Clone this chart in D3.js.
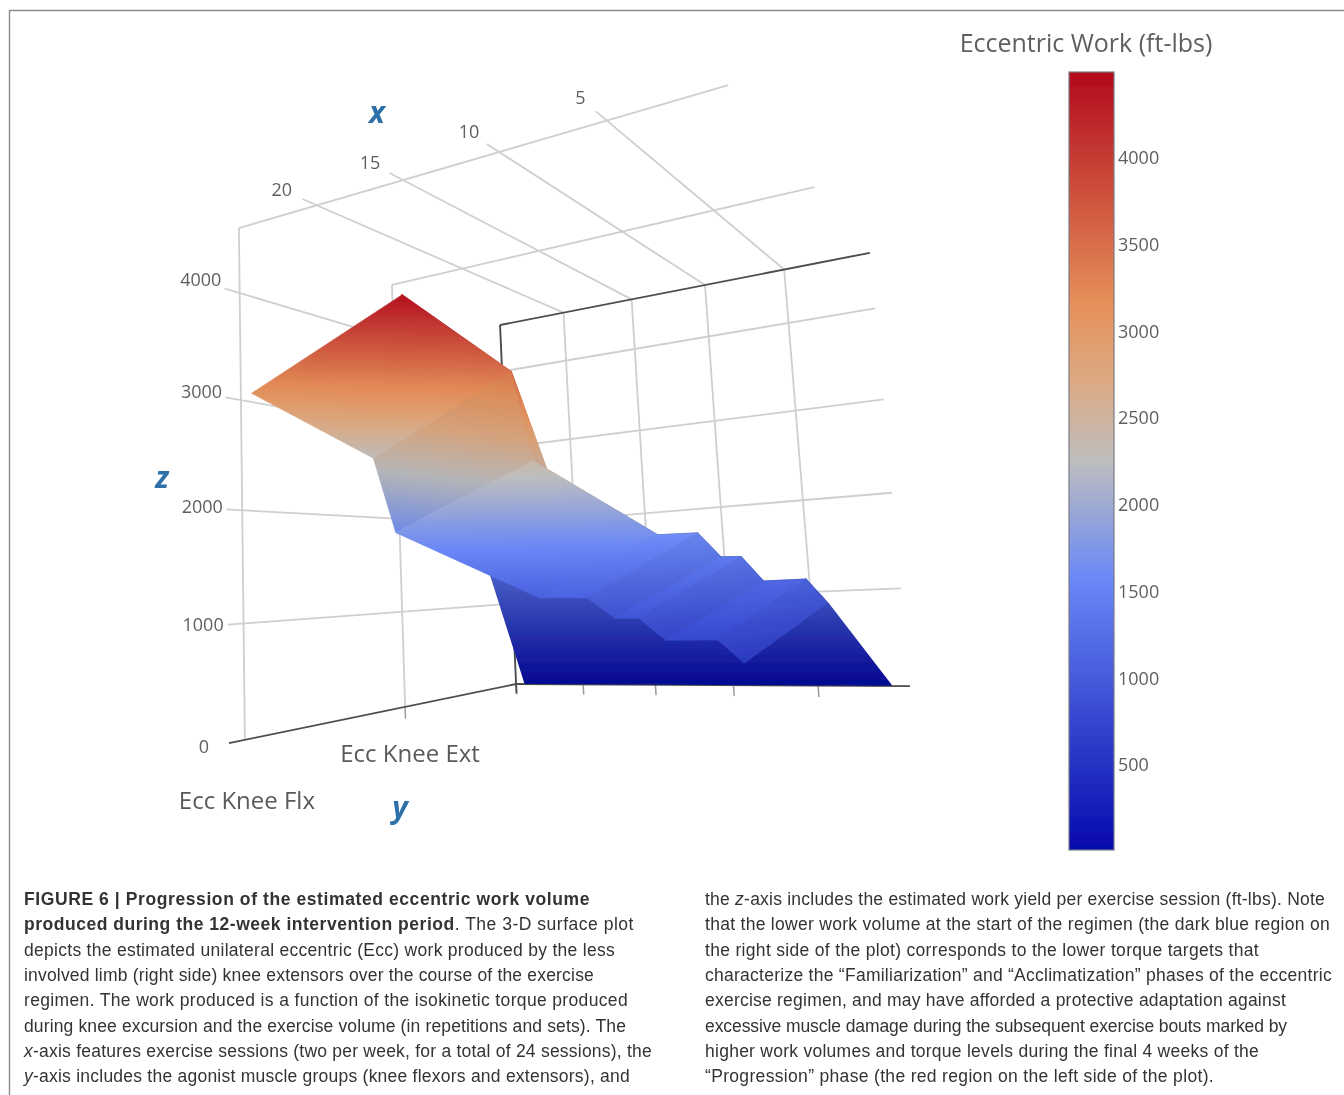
<!DOCTYPE html>
<html>
<head>
<meta charset="utf-8">
<title>Eccentric work surface</title>
<script src="https://cdn.jsdelivr.net/npm/d3@7"></script>
<style>
    html, body { margin: 0; background: #fff; }
    svg { display: block; }
    text { font-family: "Open Sans", sans-serif; }
    .grid { stroke: #cfcfcf; stroke-width: 1.8; fill: none; }
    .wall { stroke: #4d4d4d; stroke-width: 1.9; fill: none; }
    .tk { stroke: #9a9a9a; stroke-width: 1.5; fill: none; }
    .lab { fill: #5f5f5f; font-size: 18px; }
    .big { fill: #5a5a5a; font-size: 24px; }
    .var { fill: #2f6fa8; font-size: 30px; font-weight: 700; font-style: italic; }
    .cap text { font-family: "Liberation Sans", sans-serif; font-size: 17.5px; fill: #333; }
</style>
</head>
<body>
<svg id="chart" width="1344" height="1095"></svg>
<script>
// values
var sessions = [24.3, 17.1, 16, 9.1, 7, 5.9, 4.9, 3.9, 1.9, 1];
var flxWork = [3045, 2315, 1685, 1115, 1100, 950, 945, 790, 785, 630];
var extWork = [4480, 3410, 2460, 1625, 1615, 1385, 1375, 1150, 1150, 940];
var wallWork = [10, 10, 10, 10, 10, 10, 10, 10, 10, 10];
var muscles = ["Ecc Knee Flx", "Ecc Knee Ext"];
var sessionTicks = [20, 15, 10, 5];
var workTicks = [0, 1000, 2000, 3000, 4000];
var legendTicks = [500, 1000, 1500, 2000, 2500, 3000, 3500, 4000];
var colorStops = [0, 0.35, 0.5, 0.6, 0.7, 1];
var colorValues = ["rgb(5,10,172)", "rgb(106,137,247)", "rgb(190,190,190)", "rgb(220,170,132)", "rgb(230,145,90)", "rgb(178,10,28)"];
var captionLeft = [
    [["FIGURE 6 | Progression of the estimated eccentric work volume", "b"]],
    [["produced during the 12-week intervention period", "b"], [". The 3-D surface plot", ""]],
    [["depicts the estimated unilateral eccentric (Ecc) work produced by the less", ""]],
    [["involved limb (right side) knee extensors over the course of the exercise", ""]],
    [["regimen. The work produced is a function of the isokinetic torque produced", ""]],
    [["during knee excursion and the exercise volume (in repetitions and sets). The", ""]],
    [["x", "i"], ["-axis features exercise sessions (two per week, for a total of 24 sessions), the", ""]],
    [["y", "i"], ["-axis includes the agonist muscle groups (knee flexors and extensors), and", ""]]
];
var captionRight = [
    [["the ", ""], ["z", "i"], ["-axis includes the estimated work yield per exercise session (ft-lbs). Note", ""]],
    [["that the lower work volume at the start of the regimen (the dark blue region on", ""]],
    [["the right side of the plot) corresponds to the lower torque targets that", ""]],
    [["characterize the \u201CFamiliarization\u201D and \u201CAcclimatization\u201D phases of the eccentric", ""]],
    [["exercise regimen, and may have afforded a protective adaptation against", ""]],
    [["excessive muscle damage during the subsequent exercise bouts marked by", ""]],
    [["higher work volumes and torque levels during the final 4 weeks of the", ""]],
    [["\u201CProgression\u201D phase (the red region on the left side of the plot).", ""]]
];
var leftEnds = [590, 634, 615, 594, 628, 626, 652, 630];
var rightEnds = [1325, 1330, 1259, 1332, 1286, 1287, 1259, 1214];

var svg = d3.select("#chart");
var defs = svg.append("defs");
var soft = defs.append("filter").attr("id", "soft")
    .attr("x", "-5%").attr("y", "-5%").attr("width", "110%").attr("height", "110%");
soft.append("feGaussianBlur").attr("stdDeviation", 0.55);

var sessionScale = d3.scaleLinear().domain([25, 0]).range([0, 1]);
var muscleScale = d3.scaleLinear().domain([0, 2]).range([1, 0]);
var workScale = d3.scaleLinear().domain([0, 4620]).range([0, 1]);
var colorScale = d3.scaleLinear()
    .domain(colorStops.map(function (d) { return 10 + d * 4486; }))
    .range(colorValues)
    .interpolate(d3.interpolateRgb)
    .clamp(true);

// perspective camera of the box
var cam = [
    [230.955, -346.425, 6.729, 516.099],
    [-120.769, -171.461, -344.183, 684.034],
    [-0.179028, -0.30718, 0.04557, 1]
];
function project(session, row, work) {
    var u = sessionScale(session), v = muscleScale(row), w = workScale(work);
    var h = cam.map(function (c) { return c[0] * u + c[1] * v + c[2] * w + c[3]; });
    return [h[0] / h[2], h[1] / h[2]];
}
var line = d3.line();
function seg(parent, cls, from, to) {
    parent.append("path").attr("class", cls).attr("d", line([project.apply(null, from), project.apply(null, to)]));
}

var plot = svg.append("g").attr("filter", "url(#soft)");

// ---- box
var box = plot.append("g");
sessionTicks.forEach(function (s) {
    seg(box, "grid", [s, -0.08, 4620], [s, 2, 4620]);
    seg(box, "grid", [s, 2, 4620], [s, 2, 0]);
    seg(box, "tk", [s, 2, 0], [s, 2, -120]);
});
workTicks.slice(1).forEach(function (z) {
    seg(box, "grid", [25, -0.08, z], [25, 2, z]);
    seg(box, "grid", [25, 2, z], [0, 2, z]);
});
seg(box, "grid", [25, 0, 4620], [0, 0, 4620]);
seg(box, "grid", [25, 0, 4620], [25, 0, 0]);
seg(box, "grid", [25, 1, 4620], [0, 1, 4620]);
seg(box, "grid", [25, 1, 4620], [25, 1, 0]);
seg(box, "tk", [25, 1, 0], [25, 1, -120]);
seg(box, "wall", [25, -0.08, 0], [25, 2, 0]);
seg(box, "wall", [25, 2, 0], [0, 2, 0]);
seg(box, "wall", [25, 2, -120], [25, 2, 4620]);
seg(box, "wall", [25, 2, 4620], [0, 2, 4620]);

// ---- surface
var gradId = 0;
function addStops(grad, zMin, zMax, shadeAt) {
    d3.range(0, 1.001, 1 / 16).forEach(function (t) {
        var v = zMin + (zMax - zMin) * t;
        grad.append("stop").attr("offset", t).attr("stop-color", d3.rgb(colorScale(v)).darker(shadeAt(v)).formatRgb());
    });
}
// screen gradient of work over one triangle
function slopeOf(tri) {
    var p = tri.map(function (d) { return project(d.s, d.r, d.z); });
    var ax = p[1][0] - p[0][0], ay = p[1][1] - p[0][1], bx = p[2][0] - p[0][0], by = p[2][1] - p[0][1];
    var det = ax * by - ay * bx, dz1 = tri[1].z - tri[0].z, dz2 = tri[2].z - tri[0].z;
    return [(dz1 * by - dz2 * ay) / det, (ax * dz2 - bx * dz1) / det];
}
// one gradient per facet, along the mean direction in which work changes
function facetFill(a0, a1, b1, b0, shadeAt) {
    var g1 = slopeOf([a0, a1, b0]), g2 = slopeOf([a1, b1, b0]);
    var gx = (g1[0] + g2[0]) / 2, gy = (g1[1] + g2[1]) / 2, gg = gx * gx + gy * gy;
    var all = [a0, a1, b1, b0];
    var p = all.map(function (d) { return project(d.s, d.r, d.z); });
    var cx = d3.mean(p, function (d) { return d[0]; }), cy = d3.mean(p, function (d) { return d[1]; });
    var cz = d3.mean(all, function (d) { return d.z; });
    var span = d3.max(all, function (d) { return d.z; }) - d3.min(all, function (d) { return d.z; });
    var zMin = d3.min(all, function (d) { return d.z; }) - span * 0.2, zMax = d3.max(all, function (d) { return d.z; }) + span * 0.2;
    var id = "facet" + (gradId++);
    var grad = defs.append("linearGradient").attr("id", id).attr("gradientUnits", "userSpaceOnUse")
        .attr("x1", cx + gx * (zMin - cz) / gg).attr("y1", cy + gy * (zMin - cz) / gg)
        .attr("x2", cx + gx * (zMax - cz) / gg).attr("y2", cy + gy * (zMax - cz) / gg);
    addStops(grad, zMin, zMax, shadeAt);
    return "url(#" + id + ")";
}
function poly(parent, pts, fill, width) {
    parent.append("path")
        .attr("d", line(pts.map(function (d) { return project(d.s, d.r, d.z); })) + "Z")
        .attr("fill", fill).attr("stroke", fill).attr("stroke-width", width)
        .attr("stroke-linejoin", "round");
}
var surface = plot.append("g");

// wall side first, it only shows below the front side; one shared vertical gradient
var wallLow = project(sessions[0], 2, wallWork[0]), wallHigh = project(sessions[0], 1, extWork[0]);
var wallGrad = defs.append("linearGradient").attr("id", "wallGrad").attr("gradientUnits", "userSpaceOnUse")
    .attr("x1", 0).attr("y1", wallLow[1]).attr("x2", 0).attr("y2", wallHigh[1]);
addStops(wallGrad, wallWork[0], extWork[0], function (z) {
    return 0.45 * Math.max(0.15, Math.min(1, (3000 - z) / 1500));
});
d3.range(sessions.length - 1).forEach(function (i) {
    poly(surface, [
        { s: sessions[i], r: 2, z: wallWork[i] }, { s: sessions[i + 1], r: 2, z: wallWork[i + 1] },
        { s: sessions[i + 1], r: 1, z: extWork[i + 1] }, { s: sessions[i], r: 1, z: extWork[i] }
    ], "url(#wallGrad)", 1.6);
});

// front side; falling facets come out a little darker than the flat ones
d3.range(sessions.length - 1).forEach(function (i) {
    var slope = Math.abs(extWork[i + 1] - extWork[i]) / Math.abs(sessions[i + 1] - sessions[i]);
    var k = Math.min(0.12, Math.max(0, slope - 140) / 400);
    var a0 = { s: sessions[i], r: 1, z: extWork[i] }, a1 = { s: sessions[i + 1], r: 1, z: extWork[i + 1] };
    var b0 = { s: sessions[i], r: 0, z: flxWork[i] }, b1 = { s: sessions[i + 1], r: 0, z: flxWork[i + 1] };
    poly(surface, [a0, a1, b1, b0], facetFill(a0, a1, b1, b0, function () { return k; }), 0.6);
});

// ---- axis text
var labels = plot.append("g");
sessionTicks.forEach(function (s) {
    var p = project(s, -0.2, 4620);
    labels.append("text").attr("class", "lab").attr("x", p[0] + 2).attr("y", p[1])
        .attr("text-anchor", "middle").attr("dominant-baseline", "central").text(s);
});
workTicks.forEach(function (z) {
    var p = project(25, -0.2, z);
    labels.append("text").attr("class", "lab").attr("x", p[0]).attr("y", p[1] - 2)
        .attr("text-anchor", "middle").attr("dominant-baseline", "central").text(z);
});
muscles.forEach(function (m, i) {
    var p = project(25, i, 0);
    labels.append("text").attr("class", "big").attr("x", p[0] + (i ? 5 : 2)).attr("y", p[1] + (i ? 55 : 69))
        .attr("text-anchor", "middle").text(m);
});
[["x", 377, 123], ["z", 162, 488], ["y", 400, 818]].forEach(function (d) {
    labels.append("text").attr("class", "var").attr("x", d[1]).attr("y", d[2])
        .attr("text-anchor", "middle").text(d[0]);
});

// ---- colour bar
var legendScale = d3.scaleLinear().domain([10, 4496]).range([850, 72]);
var grad = defs.append("linearGradient").attr("id", "bar")
    .attr("x1", 0).attr("y1", 1).attr("x2", 0).attr("y2", 0);
colorStops.forEach(function (d, i) {
    grad.append("stop").attr("offset", d).attr("stop-color", colorValues[i]);
});
var bar = svg.append("g").attr("filter", "url(#soft)");
bar.append("rect").attr("x", 1069).attr("y", 72).attr("width", 45).attr("height", 778)
    .attr("fill", "url(#bar)").attr("stroke", "#7a7a86").attr("stroke-width", 1.2);
var legendAxis = bar.append("g").attr("transform", "translate(1114,0)")
    .call(d3.axisRight(legendScale).tickValues(legendTicks).tickSize(0).tickPadding(4).tickFormat(d3.format("d")));
legendAxis.select(".domain").remove();
legendAxis.selectAll("text").attr("class", "lab");
bar.append("text").attr("x", 1086).attr("y", 52).attr("text-anchor", "middle")
    .attr("fill", "#5f5f5f").attr("font-size", 25).text("Eccentric Work (ft-lbs)");

// ---- frame
svg.append("path").attr("d", "M9.5,1095V10.5H1344").attr("fill", "none").attr("stroke", "#8a8a8a").attr("stroke-width", 1.4);

// ---- caption, squeezed a bit per line to keep the original line ends
var cap = svg.append("g").attr("class", "cap");
function caption(lines, x, ends) {
    lines.forEach(function (runs, i) {
        var t = cap.append("text").attr("x", x).attr("y", 905 + i * 25.3);
        runs.forEach(function (r) {
            t.append("tspan").text(r[0])
                .attr("font-weight", r[1] === "b" ? 700 : 400)
                .attr("font-style", r[1] === "i" ? "italic" : "normal");
        });
        var n = d3.sum(runs, function (r) { return r[0].length; });
        t.attr("letter-spacing", (ends[i] - x - t.node().getComputedTextLength()) / n);
    });
}
caption(captionLeft, 24, leftEnds);
caption(captionRight, 705, rightEnds);
</script>
</body>
</html>
